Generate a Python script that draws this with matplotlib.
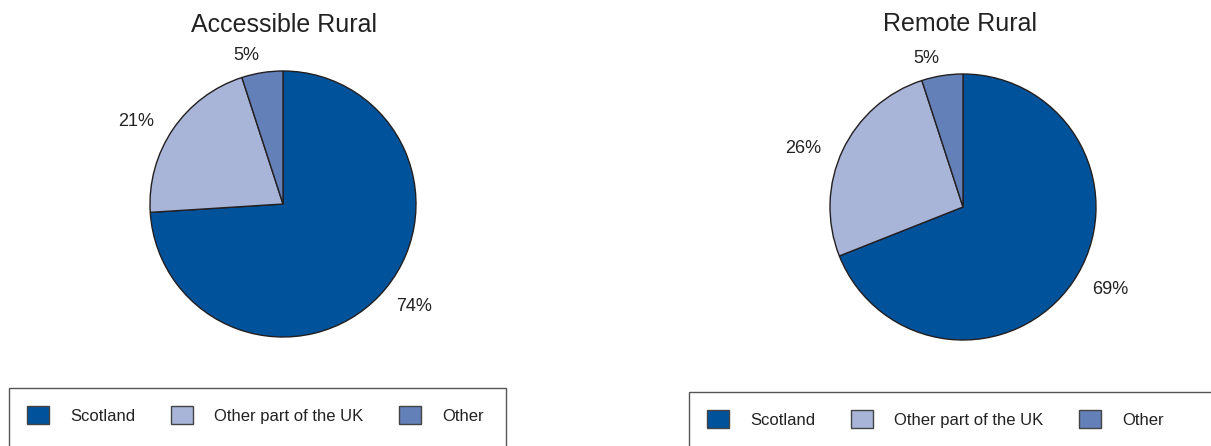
import numpy as np
import matplotlib.pyplot as plt
from matplotlib.patches import Rectangle

plt.rcParams['font.family'] = ['Liberation Sans', 'DejaVu Sans']

categories = ['Scotland', 'Other part of the UK', 'Other']
titles = ['Accessible Rural', 'Remote Rural']
accessible = [74, 21, 5]
remote = [69, 26, 5]
series = [accessible, remote]

colors = ['#00529B', '#A8B4D8', '#6380B9']
edge = '#231F20'
txt = '#222222'

W, H = 1211, 446
fig = plt.figure(figsize=(W / 100, H / 100), dpi=100)

# pie centres (px from left, px from top), radius px
centres = [(283, 204), (963, 207)]
title_pos = [(284, 25), (960, 24)]
R = 133
lim = 1.5
S = 2 * R * lim

for i, vals in enumerate(series):
    cx, cy = centres[i]
    ax = fig.add_axes([(cx - S / 2) / W, (H - cy - S / 2) / H, S / W, S / H])
    wedges, _ = ax.pie(vals, colors=colors, startangle=90, counterclock=False,
                       wedgeprops=dict(edgecolor=edge, linewidth=1))
    for w, v in zip(wedges, vals):
        ang = np.deg2rad((w.theta1 + w.theta2) / 2 + 5)
        r = 1.11 + 0.18 * abs(np.cos(ang))
        ax.text(r * np.cos(ang), r * np.sin(ang), f'{v}%', ha='center', va='center',
                fontsize=13, color=txt)
    ax.set_xlim(-lim, lim)
    ax.set_ylim(-lim, lim)
    ax.set_aspect('equal')
    ax.axis('off')
    tx, ty = title_pos[i]
    fig.text(tx / W, 1 - ty / H, titles[i], ha='center', va='center',
             fontsize=18, color=txt)

# legend boxes
boxes = [(9, 388, 497, 60), (689, 392, 530, 60)]
anchors = [(27, 406), (707, 410)]
for (bx, by, bw, bh), (ax0, ay0) in zip(boxes, anchors):
    fig.patches.append(Rectangle((bx / W, 1 - (by + bh) / H), bw / W, bh / H,
                                 transform=fig.transFigure, fill=False,
                                 edgecolor='#555555', linewidth=1))
    handles = [Rectangle((0, 0), 1, 1, facecolor=c, edgecolor='#444444', linewidth=1)
               for c in colors]
    fig.legend(handles, categories, loc='upper left',
               bbox_to_anchor=(ax0 / W, 1 - ay0 / H), ncol=3, frameon=False,
               fontsize=12, borderpad=0, borderaxespad=0, handlelength=1.32,
               handleheight=1.32, handletextpad=1.26, columnspacing=2.16,
               labelcolor=txt)

fig.savefig('out.png', dpi=100)
